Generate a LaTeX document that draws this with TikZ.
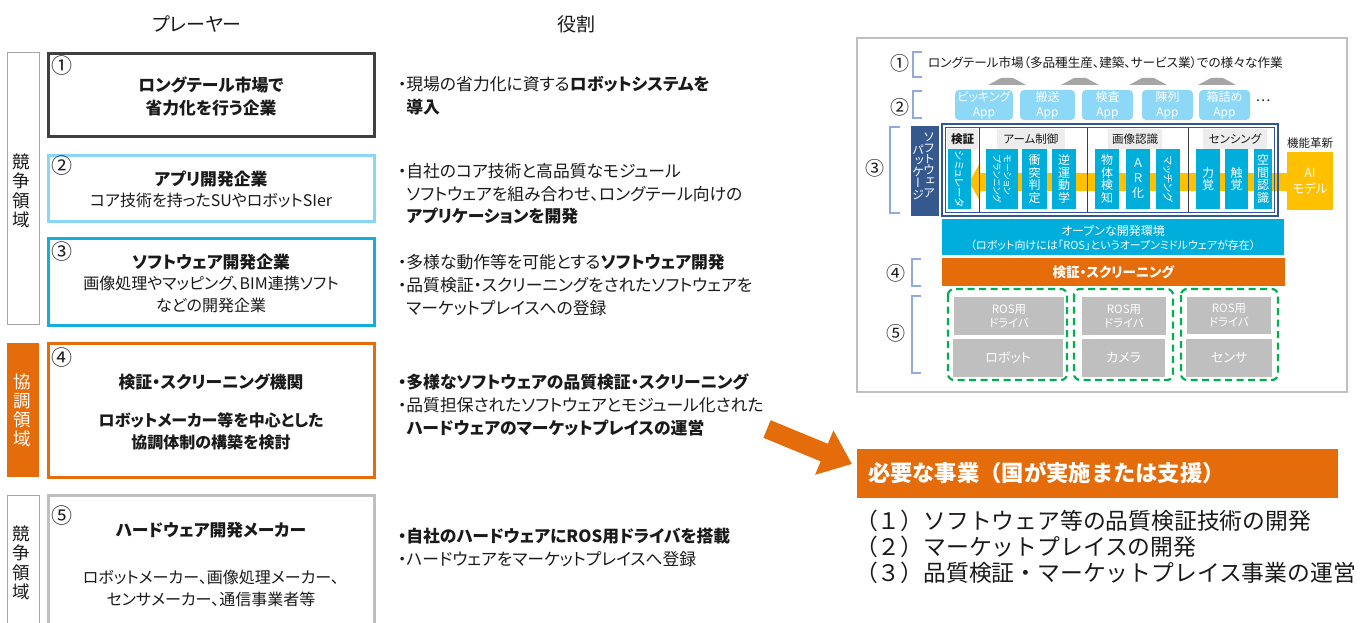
\documentclass[tikz,border=0pt]{standalone}
\usepackage{fontspec}
\setmainfont{Noto Sans CJK JP}[RawFeature=+palt]
\newfontfamily\fw{Noto Sans CJK JP}
\newfontfamily\vj{Noto Sans CJK JP}[RawFeature=+vert]
\usetikzlibrary{fit,arrows.meta,calc}
\newcommand\fz[2]{\fontsize{#1pt}{#2pt}\selectfont}
\definecolor{dk}{HTML}{404040}
\definecolor{lb}{HTML}{8AD6F6}
\definecolor{bl}{HTML}{14AEDC}
\definecolor{og}{HTML}{E46C0A}
\definecolor{gy}{HTML}{BFBFBF}
\definecolor{lg}{HTML}{A6A6A6}
\definecolor{brk}{HTML}{8FAADC}
\definecolor{appc}{HTML}{8DD7F7}
\definecolor{pkg}{HTML}{35598F}
\definecolor{fr}{HTML}{2F5597}
\definecolor{tile}{HTML}{00AEDB}
\definecolor{yl}{HTML}{FFC000}
\definecolor{gr}{HTML}{00B050}
\definecolor{hd}{HTML}{EDEDED}
\definecolor{tx}{HTML}{1A1A1A}
\begin{document}
\begin{tikzpicture}[x=1pt,y=-1pt,
  every node/.style={inner sep=0pt,outer sep=0pt,text=tx},
  zone/.style={inner sep=0pt,draw=lg,line width=1pt},
  pbox/.style={inner sep=0pt,line width=3pt},
  num/.style={font=\fz{21}{21}},
  ttl/.style={font=\bfseries\fz{16.8}{23},align=center},
  sub/.style={font=\fz{16}{22},align=center},
  mid/.style={anchor=west,font=\fz{16.8}{20}},
  brkt/.style={draw=brk,line width=1.4pt},
  rnum/.style={font=\fz{19}{19}},
  app/.style={inner sep=0pt,fill=appc,rounded corners=4pt},
  apptx/.style={font=\fz{12}{15},align=center,text=white},
  tl/.style={inner sep=0pt,fill=tile},
  vt/.style={font=\vj\fz{12}{12.4},align=center,text=white},
  rt/.style={font=\fz{10.5}{11},text=white,rotate=-90},
  hdr/.style={inner sep=0pt,fill=hd},
  hdt/.style={font=\fz{11.5}{11.5}},
  gbx/.style={inner sep=0pt,fill=gy},
  gtx/.style={font=\fz{11.5}{14},align=center,text=white},
  dsh/.style={draw=gr,line width=2.2pt,dash pattern=on 7pt off 4.5pt,rounded corners=6pt}]
\useasboundingbox (0,0) rectangle (1362,623);
\fill[white] (0,0) rectangle (1362,623);
\clip (0,0) rectangle (1362,623);

% headers
\node[font=\fz{19}{19}] (hp) at (197,24) {プレーヤー};
\node[font=\fz{19}{19}] (hr) at (576,24) {役割};

% zone labels
\node[zone,fit={(7,53)(39,324)}] (z1) {};
\node[font=\fz{17.5}{19.3},align=center] (z1t) at (21,191) {競\\争\\領\\域};
\node[inner sep=0pt,fill=og,fit={(7,343)(39,477)}] (z2) {};
\node[font=\fz{17.5}{19},align=center,text=white] (z2t) at (22,410) {協\\調\\領\\域};
\node[zone,fit={(7,495)(39,640)}] (z3) {};
\node[font=\fz{17.5}{19.3},align=center] (z3t) at (21,563) {競\\争\\領\\域};

% player boxes
\node[pbox,draw=dk,fit={(48,54)(374,137)}] (p1) {};
\node[num] (n1) at (62,66) {①};
\node[ttl] (p1t) at (211,96) {ロングテール市場で\\省力化を行う企業};

\node[pbox,draw=lb,fit={(48,155)(374,221)}] (p2) {};
\node[num] (n2) at (62,166) {②};
\node[ttl] (p2t) at (211,179) {アプリ開発企業};
\node[sub] (p2s) at (211,200) {コア技術を持ったSUやロボットSIer};

\node[pbox,draw=bl,fit={(48,238)(374,325)}] (p3) {};
\node[num] (n3) at (62,252) {③};
\node[ttl] (p3t) at (211,262) {ソフトウェア開発企業};
\node[sub] (p3s) at (211,294) {画像処理やマッピング、BIM連携ソフト\\などの開発企業};

\node[pbox,draw=og,fit={(48,343)(374,477)}] (p4) {};
\node[num] (n4) at (62,358) {④};
\node[ttl] (p4t) at (211,382) {検証・スクリーニング機関};
\node[font=\bfseries\fz{16}{22},align=center] (p4s) at (211,431) {ロボットメーカー等を中心とした\\協調体制の構築を検討};

\node[pbox,draw=gy,fit={(48,495)(374,640)}] (p5) {};
\node[num] (n5) at (62,516) {⑤};
\node[ttl] (p5t) at (211,530) {ハードウェア開発メーカー};
\node[sub] (p5s) at (211,588) {ロボットメーカー、画像処理メーカー、\\センサメーカー、通信事業者等};

% roles
\node[mid] (m1) at (398,84) {・現場の省力化に資する\textbf{ロボットシステムを}};
\node[mid] (m2) at (398,107) {\phantom{・}\textbf{導入}};
\node[mid] (m3) at (398,171) {・自社のコア技術と高品質なモジュール};
\node[mid] (m4) at (398,194) {\phantom{・}ソフトウェアを組み合わせ、ロングテール向けの};
\node[mid] (m5) at (398,216) {\phantom{・}\textbf{アプリケーションを開発}};
\node[mid] (m6) at (398,262) {・多様な動作等を可能とする\textbf{ソフトウェア開発}};
\node[mid] (m7) at (398,285) {・品質検証・スクリーニングをされたソフトウェアを};
\node[mid] (m8) at (398,308) {\phantom{・}マーケットプレイスへの登録};
\node[mid] (m9) at (398,382) {\textbf{・多様なソフトウェアの品質検証・スクリーニング}};
\node[mid] (m10) at (398,405) {・品質担保されたソフトウェアとモジュール化された};
\node[mid] (m11) at (398,428) {\phantom{・}\textbf{ハードウェアのマーケットプレイスの運営}};
\node[mid] (m12) at (398,536) {\textbf{・自社のハードウェアにROS用ドライバを搭載}};
\node[mid] (m13) at (398,559) {・ハードウェアをマーケットプレイスへ登録};

% big arrow
\coordinate (as) at (767,429);
\coordinate (ae) at (852,464);
\draw[og,line width=19pt,-{Triangle[width=46pt,length=30pt]}] (as) -- (ae);

% needed projects
\node[inner sep=0pt,fill=og,fit={(857,449)(1338,498)}] (need) {};
\node[anchor=west,font=\fw\bfseries\fz{22.3}{22},text=white] (needt) at (868,473) {必要な事業（国が実施または支援）};
\node[anchor=west,font=\fw\fz{22.8}{26}] (l1) at (855,521) {（１）ソフトウェア等の品質検証技術の開発};
\node[anchor=west,font=\fw\fz{22.8}{26}] (l2) at (855,547) {（２）マーケットプレイスの開発};
\node[anchor=west,font=\fw\fz{22.8}{26}] (l3) at (855,573) {（３）品質検証・マーケットプレイス事業の運営};

% right diagram frame
\node[inner sep=0pt,draw=gy,line width=1.5pt,fit={(857,38)(1347,392)}] (frame) {};

% brackets and numbers
\draw[brkt] (922,52) -- (913,52) -- (913,77) -- (922,77);
\draw[brkt] (922,91) -- (913,91) -- (913,118) -- (922,118);
\draw[brkt] (900,127) -- (890,127) -- (890,213) -- (900,213);
\draw[brkt] (921,259) -- (912,259) -- (912,286) -- (921,286);
\draw[brkt] (921,296) -- (912,296) -- (912,373) -- (921,373);
\node[rnum] (r1) at (900,63) {①};
\node[rnum] (r2) at (900,107) {②};
\node[rnum] (r3) at (875,168) {③};
\node[rnum] (r4) at (896,273) {④};
\node[rnum] (r5) at (896,333) {⑤};

\node[anchor=west,font=\fz{12.6}{12.6}] (lt) at (928,63) {ロングテール市場（多品種生産、建築、サービス業）での様々な作業};

% roofs
\foreach \c in {1007,1080,1148,1217}
  \fill[lg] (\c-19,85) -- (\c-6,78) -- (\c+6,78) -- (\c+19,85) -- cycle;

% apps
\node[app,fit={(955,90)(1013,120)}] (a1) {};
\node[app,fit={(1020,90)(1075,120)}] (a2) {};
\node[app,fit={(1082,90)(1133,120)}] (a3) {};
\node[app,fit={(1142,90)(1193,120)}] (a4) {};
\node[app,fit={(1199,90)(1250,120)}] (a5) {};
\node[apptx] at (a1) {ピッキング\\App};
\node[apptx] at (a2) {搬送\\App};
\node[apptx] at (a3) {検査\\App};
\node[apptx] at (a4) {陳列\\App};
\node[apptx] at (a5) {箱詰め\\App};
\node[font=\fz{14}{14}] (dots) at (1263,101) {…};

% software package
\node[inner sep=0pt,fill=pkg,fit={(911,126)(939,216)}] (pk) {};
\node[font=\vj\fz{12}{11.2},align=center,text=white] (pk1) at (929,165) {ソ\\フ\\ト\\ウ\\ェ\\ア};
\node[font=\vj\fz{12}{11.2},align=center,text=white] (pk2) at (918,172) {パ\\ッ\\ケ\\ー\\ジ};

% yellow band with arrow head
\fill[yl] (1287,173) -- (980,173) -- (980,163) -- (969,182) -- (980,201) -- (980,191) -- (1287,191) -- cycle;

% function frame
\draw[fr,line width=2.5pt] (942,124) rectangle (1278,216);
\draw[fr,line width=0.8pt] (945.5,127.5) rectangle (1274.5,212.5);
\node[hdr,fit={(947,129)(978,149)}] (h1) {};
\node[hdr,fit={(997,129)(1065,149)}] (h2) {};
\node[hdr,fit={(1108,129)(1162,149)}] (h3) {};
\node[hdr,fit={(1203,129)(1267,149)}] (h4) {};
\node[hdt,font=\bfseries\fz{11.5}{11.5}] at (h1) {検証};
\node[hdt] at (h2) {アーム制御};
\node[hdt] at (h3) {画像認識};
\node[hdt] at (h4) {センシング};
\draw[dk,line width=1pt] (979,128) -- (979,212);
\draw[dk,line width=1pt] (1087,128) -- (1087,212);
\draw[dk,line width=1pt] (1188,128) -- (1188,212);

% tiles
\node[tl,fit={(948,149)(971,209)}] (t1) {};
\node[tl,fit={(986,149)(1018,209)}] (t2) {};
\node[tl,fit={(1022,149)(1047,209)}] (t3) {};
\node[tl,fit={(1052,149)(1076,209)}] (t4) {};
\node[tl,fit={(1095,149)(1119,209)}] (t5) {};
\node[tl,fit={(1126,149)(1150,209)}] (t6) {};
\node[tl,fit={(1156,149)(1180,209)}] (t7) {};
\node[tl,fit={(1196,149)(1220,209)}] (t8) {};
\node[tl,fit={(1225,149)(1248,209)}] (t9) {};
\node[tl,fit={(1254,149)(1272,209)}] (t10) {};
\node[rt] at (t1) {シミュレータ};
\node[rt,font=\fz{9}{10.5},align=left] at (t2) {モーション\\プランニング};
\node[vt] at (t3) {衝\\突\\判\\定};
\node[vt] at (t4) {逆\\運\\動\\学};
\node[vt] at (t5) {物\\体\\検\\知};
\node[vt,font=\vj\fz{12}{15}] at (t6) {Ａ\\Ｒ\\化};
\node[rt] at (t7) {マッチング};
\node[vt] at (t8) {力\\覚};
\node[vt] at (t9) {触\\覚};
\node[vt] at (t10) {空\\間\\認\\識};

% AI model
\node[font=\fz{11.5}{11.5}] (kn) at (1310,143) {機能革新};
\node[inner sep=0pt,fill=yl,fit={(1287,152)(1333,210)}] (ai) {};
\node[font=\fz{12.5}{16},align=center,text=white] at (ai) {AI\\モデル};

% open environment
\node[inner sep=0pt,fill=tile,fit={(942,219)(1284,255)}] (open) {};
\node[font=\fz{12}{12},text=white] (o1) at (1113,231) {オープンな開発環境};
\node[font=\fz{11}{11},text=white] (o2) at (1113,245) {（ロボット向けには「ROS」というオープンミドルウェアが存在）};

% screening bar
\node[inner sep=0pt,fill=og,fit={(942,258)(1285,286)}] (scr) {};
\node[font=\bfseries\fz{13.5}{13.5},text=white] at (scr) {検証・スクリーニング};

% hardware
\draw[dsh] (948,289) rectangle (1067,380);
\draw[dsh] (1074,289) rectangle (1173,380);
\draw[dsh] (1181,289) rectangle (1278,380);
\node[gbx,fit={(954,297)(1064,335)}] (d1) {};
\node[gbx,fit={(953,339)(1063,377)}] (h1b) {};
\node[gbx,fit={(1082,297)(1166,335)}] (d2) {};
\node[gbx,fit={(1082,339)(1165,377)}] (h2b) {};
\node[gbx,fit={(1187,297)(1271,334)}] (d3) {};
\node[gbx,fit={(1186,339)(1272,377)}] (h3b) {};
\node[gtx] at (d1) {ROS用\\ドライバ};
\node[gtx] at (d2) {ROS用\\ドライバ};
\node[gtx] at (d3) {ROS用\\ドライバ};
\node[gtx,font=\fz{13}{14}] at (h1b) {ロボット};
\node[gtx,font=\fz{13}{14}] at (h2b) {カメラ};
\node[gtx,font=\fz{13}{14}] at (h3b) {センサ};
\end{tikzpicture}
\end{document}
